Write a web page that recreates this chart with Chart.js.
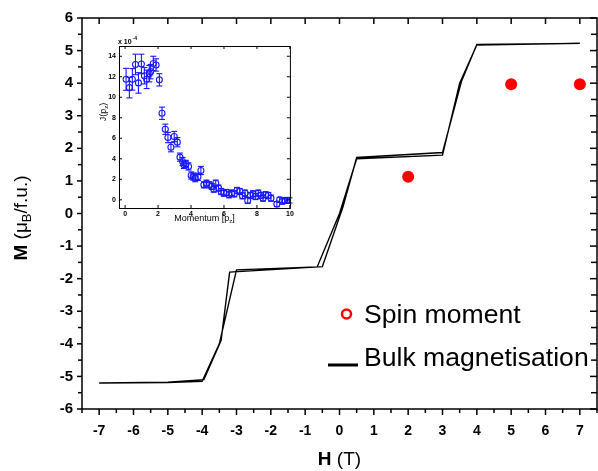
<!DOCTYPE html>
<html><head><meta charset="utf-8">
<script src="https://cdn.jsdelivr.net/npm/chart.js@4.4.1/dist/chart.umd.min.js"></script>
<style>
html,body{margin:0;padding:0;background:#fff;overflow:hidden;}
#wrap{position:relative;width:598px;height:471px;overflow:hidden;}
#main{position:absolute;left:0;top:0;}
#inset{position:absolute;left:90px;top:30px;}
</style></head><body>
<div id="wrap"><canvas id="main" width="603" height="471"></canvas><canvas id="inset" width="205" height="200"></canvas></div>
<script>
// ---- main chart data ----
const hUp   = [-7, -5, -4.0, -3.5, -3.0, -0.65, 0.0, 0.5, 3.0, 3.5, 4.0, 7];
const mUp   = [-5.2, -5.19, -5.15, -4.0, -1.73, -1.64, 0.0, 1.68, 1.79, 4.0, 5.17, 5.22];
const hDown = [7, 4.0, 3.55, 3.0, 0.5, 0.1, -0.5, -3.2, -3.45, -3.95, -5, -7];
const mDown = [5.22, 5.19, 4.05, 1.87, 1.72, 0.2, -1.63, -1.8, -3.9, -5.1, -5.18, -5.2];
const hSpin = [2, 5, 7];
const mSpin = [1.13, 3.97, 3.97];

// ---- inset data ----
const pz = [0.06,0.26,0.44,0.63,0.81,0.99,1.17,1.31,1.47,1.55,1.71,1.88,2.08,2.24,2.44,2.6,2.78,2.98,3.17,3.33,3.49,3.57,3.69,3.85,4.01,4.13,4.25,4.42,4.6,4.78,4.94,5.1,5.26,5.38,5.5,5.67,5.83,5.99,6.15,6.31,6.47,6.63,6.79,6.96,7.12,7.28,7.44,7.6,7.76,7.92,8.08,8.25,8.37,8.53,8.69,8.85,9.21,9.38,9.54,9.7,9.86,9.98];
const Jpz = [11.75,10.94,11.75,13.2,11.4,13.25,12.1,11.75,12.3,12.5,13.3,13.15,11.7,8.44,6.88,6.07,5.13,6.17,5.62,4.16,3.73,3.41,3.5,3.25,2.37,2.27,2.11,2.24,2.86,1.46,1.62,1.46,1.3,1.04,1.62,1.14,0.81,0.65,0.71,0.49,0.65,0.58,0.91,0.81,0.39,0.65,-0.06,0.42,0.58,0.32,0.65,0.42,0.16,0.49,0.42,0.16,-0.42,0,-0.16,-0.06,-0.06,-0.06];
const Jerr = [1.07,1.0,1.05,1.0,1.0,0.95,0.8,0.9,0.8,0.7,0.7,0.6,0.6,0.6,0.5,0.5,0.45,0.5,0.45,0.4,0.4,0.35,0.35,0.35,0.35,0.35,0.35,0.35,0.4,0.3,0.3,0.3,0.3,0.3,0.3,0.3,0.3,0.3,0.3,0.3,0.3,0.3,0.3,0.3,0.3,0.3,0.3,0.3,0.3,0.3,0.3,0.3,0.3,0.3,0.3,0.3,0.25,0.25,0.25,0.25,0.25,0.25];
const insetXTicks = [0,2,4,6,8,10];
const insetYTicks = [0,2,4,6,8,10,12,14];

Chart.defaults.font.family = "'Liberation Sans', Arial, Helvetica, sans-serif";
Chart.defaults.color = '#000';

const loop = hUp.map((h,i)=>({x:h,y:mUp[i]})).concat(hDown.map((h,i)=>({x:h,y:mDown[i]})));

function seg(ctx,x1,y1,x2,y2){ctx.beginPath();ctx.moveTo(x1,y1);ctx.lineTo(x2,y2);ctx.stroke();}

const mainAxes = {
  id:'mainAxes',
  afterDraw(chart){
    const {ctx, chartArea:a, scales:{x,y}} = chart;
    ctx.save();
    ctx.strokeStyle='#000'; ctx.lineWidth=1.5;
    ctx.strokeRect(a.left, a.top, a.right-a.left, a.bottom-a.top);
    x.ticks.forEach(t=>{
      const px = x.getPixelForValue(t.value);
      const maj = Number.isInteger(t.value);
      seg(ctx,px,a.bottom,px,a.bottom+(maj?6:4));
      if (maj) seg(ctx,px,a.top,px,a.top+6);
    });
    y.ticks.forEach(t=>{
      const py = y.getPixelForValue(t.value);
      const maj = Number.isInteger(t.value);
      seg(ctx,a.left-(maj?5:4),py,a.left,py);
      seg(ctx,a.right-(maj?7:6),py,a.right,py);
    });
    // axis titles
    ctx.fillStyle='#000';
    ctx.textBaseline='middle';
    const fB='bold 19px "Liberation Sans", Arial', fN='19px "Liberation Sans", Arial';
    ctx.font=fB; const wH=ctx.measureText('H').width;
    ctx.font=fN; const wT=ctx.measureText(' (T)').width;
    let sx = x.getPixelForValue(0) - (wH+wT)/2;
    const ty = 460;
    ctx.textAlign='left';
    ctx.font=fB; ctx.fillText('H',sx,ty);
    ctx.font=fN; ctx.fillText(' (T)',sx+wH,ty);
    // y title rotated
    ctx.save();
    ctx.translate(22, 218);
    ctx.rotate(-Math.PI/2);
    const parts=[['M',fB,0],[' (\u03bc',fN,0],['B','13px "Liberation Sans", Arial',5],['/f.u.)',fN,0]];
    let tw=0; parts.forEach(p=>{ctx.font=p[1]; tw+=ctx.measureText(p[0]).width;});
    let cx=-tw/2;
    parts.forEach(p=>{ctx.font=p[1]; ctx.fillText(p[0],cx,p[2]); cx+=ctx.measureText(p[0]).width;});
    ctx.restore();
    // legend
    const ds0 = chart.data.datasets[0], ds1 = chart.data.datasets[1];
    ctx.strokeStyle='#ff0000'; ctx.lineWidth=2.5;
    ctx.beginPath(); ctx.arc(346.5,314,4.5,0,Math.PI*2); ctx.stroke();
    ctx.strokeStyle='#000'; ctx.lineWidth=3;
    seg(ctx,328,365,358,365);
    ctx.font='26.6px "Liberation Sans", Arial';
    ctx.textBaseline='alphabetic';
    ctx.fillText(ds0.label,364,323);
    ctx.fillText(ds1.label,364,366);
    ctx.restore();
  }
};

new Chart(document.getElementById('main'), {
  type:'scatter',
  data:{datasets:[
    {label:'Spin moment', data:hSpin.map((h,i)=>({x:h,y:mSpin[i]})), pointRadius:6, pointBackgroundColor:'#ff0000', pointBorderColor:'#ff0000', pointBorderWidth:0, showLine:false, order:0},
    {label:'Bulk magnetisation', data:loop, showLine:true, borderColor:'#000', borderWidth:1.4, pointRadius:0, tension:0, order:1}
  ]},
  options:{
    responsive:false, animation:false, devicePixelRatio:1,
    layout:{padding:{left:0,right:0,top:18,bottom:0}},
    plugins:{legend:{display:false}, tooltip:{enabled:false}},
    scales:{
      x:{type:'linear', min:-7.5, max:7.5, afterFit(s){s.height=62; s.paddingLeft=0; s.paddingRight=0;},
         grid:{display:false, drawTicks:false}, border:{display:false},
         ticks:{stepSize:0.5, autoSkip:false, maxRotation:0, padding:14, color:'#000', font:{size:14, weight:'bold'},
                callback:v=>Number.isInteger(v)?String(v):''}},
      y:{type:'linear', min:-6, max:6, afterFit(s){s.width=82; s.paddingTop=0; s.paddingBottom=0;},
         grid:{display:false, drawTicks:false}, border:{display:false},
         ticks:{stepSize:0.5, autoSkip:false, padding:9, color:'#000', font:{size:15, weight:'bold'},
                callback:v=>Number.isInteger(v)?String(v):''}}
    }
  },
  plugins:[mainAxes]
});

// ---- inset ----
const blue='rgb(25,25,255)';
const insetAxes = {
  id:'insetAxes',
  beforeDatasetsDraw(chart){
    const {ctx, scales:{x,y}} = chart;
    ctx.save(); ctx.strokeStyle=blue; ctx.lineWidth=1.1;
    chart.data.datasets[0].data.forEach((p,i)=>{
      const px=x.getPixelForValue(p.x);
      const y1=y.getPixelForValue(p.y-Jerr[i]), y2=y.getPixelForValue(p.y+Jerr[i]);
      seg(ctx,px,y1,px,y2); seg(ctx,px-3,y1,px+3,y1); seg(ctx,px-3,y2,px+3,y2);
    });
    ctx.restore();
  },
  afterDraw(chart){
    const {ctx, chartArea:a, scales:{x,y}} = chart;
    ctx.save();
    ctx.strokeStyle='#000'; ctx.lineWidth=1;
    ctx.strokeRect(a.left+0.5, a.top+0.5, a.right-a.left, a.bottom-a.top);
    x.ticks.forEach(t=>{const px=x.getPixelForValue(t.value); seg(ctx,px,a.bottom,px,a.bottom-3); seg(ctx,px,a.top,px,a.top+3);});
    y.ticks.forEach(t=>{const py=y.getPixelForValue(t.value); seg(ctx,a.left,py,a.left+3,py); seg(ctx,a.right,py,a.right-3,py);});
    ctx.fillStyle='#000';
    ctx.font='bold 7px "Liberation Sans", Arial'; ctx.textBaseline='alphabetic'; ctx.textAlign='left';
    ctx.fillText('x 10',a.left-1,a.top-2);
    const w=ctx.measureText('x 10').width;
    ctx.font='bold 5px "Liberation Sans", Arial'; ctx.fillText('-4',a.left-1+w+1,a.top-6);
    // x title
    const f9='9px "Liberation Sans", Arial', f6='6px "Liberation Sans", Arial';
    const xp=[['Momentum [p',f9,0],['z',f6,2],[']',f9,0]];
    let tw=0; xp.forEach(p=>{ctx.font=p[1]; tw+=ctx.measureText(p[0]).width;});
    let cx=(a.left+a.right)/2-tw/2;
    xp.forEach(p=>{ctx.font=p[1]; ctx.fillText(p[0],cx,191+p[2]); cx+=ctx.measureText(p[0]).width;});
    // y title rotated
    ctx.save(); ctx.translate(16,82); ctx.rotate(-Math.PI/2);
    const f8='9px "Liberation Sans", Arial', f5='6px "Liberation Sans", Arial';
    const yp=[['J(p',f8,0],['z',f5,2],[')',f8,0]];
    tw=0; yp.forEach(p=>{ctx.font=p[1]; tw+=ctx.measureText(p[0]).width;});
    cx=-tw/2;
    yp.forEach(p=>{ctx.font=p[1]; ctx.fillText(p[0],cx,p[2]); cx+=ctx.measureText(p[0]).width;});
    ctx.restore();
    ctx.restore();
  }
};

new Chart(document.getElementById('inset'), {
  type:'scatter',
  data:{datasets:[{label:'J(pz)', data:pz.map((v,i)=>({x:v,y:Jpz[i]})), pointRadius:3, pointBorderWidth:1.1,
    pointBorderColor:blue, pointBackgroundColor:'rgba(0,0,0,0)', showLine:false}]},
  options:{
    responsive:false, animation:false, devicePixelRatio:1,
    layout:{padding:{left:0,right:5,top:16,bottom:0}},
    plugins:{legend:{display:false}, tooltip:{enabled:false}},
    scales:{
      x:{type:'linear', min:-0.37, max:10, afterFit(s){s.height=22; s.paddingLeft=0; s.paddingRight=0;},
         afterBuildTicks(s){s.ticks=insetXTicks.map(v=>({value:v}));},
         grid:{display:false, drawTicks:false}, border:{display:false},
         ticks:{autoSkip:false, maxRotation:0, padding:2, color:'#000', font:{size:7, weight:'bold'}}},
      y:{type:'linear', min:-0.8, max:15, afterFit(s){s.width=29; s.paddingTop=0; s.paddingBottom=0;},
         afterBuildTicks(s){s.ticks=insetYTicks.map(v=>({value:v}));},
         grid:{display:false, drawTicks:false}, border:{display:false},
         ticks:{autoSkip:false, padding:3, color:'#000', font:{size:7, weight:'bold'}}}
    }
  },
  plugins:[insetAxes]
});
</script>
</body></html>
